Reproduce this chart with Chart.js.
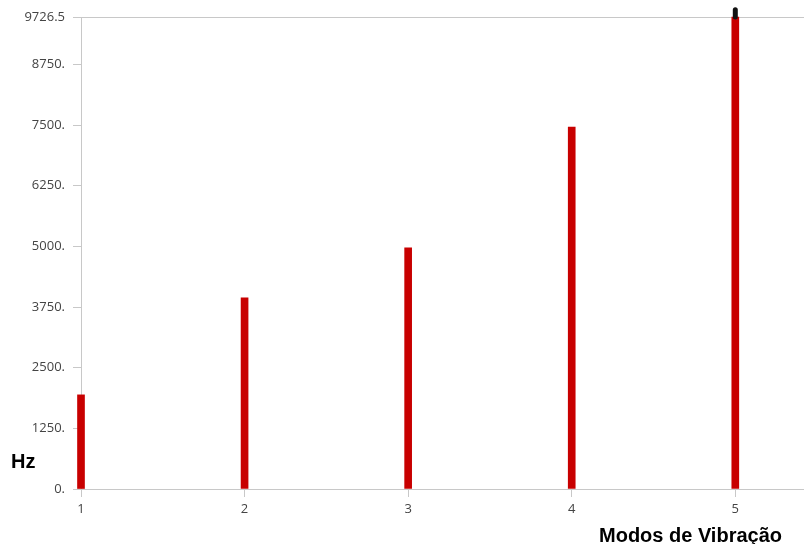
<!DOCTYPE html>
<html>
<head>
<meta charset="utf-8">
<script src="https://cdn.jsdelivr.net/npm/chart.js@4/dist/chart.umd.min.js"></script>
<style>
  html, body { margin: 0; padding: 0; background: #fff; }
  #wrap { position: relative; width: 804px; height: 544px; }
  .rotulo { position: absolute; font-family: "Liberation Sans", Arial, sans-serif; font-weight: bold; font-size: 20px; color: #000; line-height: 1; }
</style>
</head>
<body>
<div id="wrap">
  <canvas id="grafico" width="804" height="544"></canvas>
  <div class="rotulo" style="left:11px; top:451px;">Hz</div>
  <div class="rotulo" style="left:599px; top:525px;">Modos de Vibração</div>
</div>
<script>
// Modos de vibração e frequências (Hz)
const modos = [1, 2, 3, 4, 5];
const frequencias = [1940, 3940, 4970, 7460, 9726.5];
// Valores das marcas do eixo Y
const ticksY = [0, 1250, 2500, 3750, 5000, 6250, 7500, 8750, 9726.5];
const rotulosY = ['0.', '1250.', '2500.', '3750.', '5000.', '6250.', '7500.', '8750.', '9726.5'];

const corGrade = '#c8c8c8';
const corTexto = '#444';
const maxY = ticksY[ticksY.length - 1];

const ctx = document.getElementById('grafico').getContext('2d');

new Chart(ctx, {
    type: 'bar',
    data: {
        datasets: [
            {
                // marcador preto no topo do último modo
                type: 'line',
                data: [{x: modos[4], y: frequencias[4]}, {x: modos[4], y: frequencias[4] + 150}],
                borderColor: '#111',
                borderWidth: 5,
                borderCapStyle: 'round',
                pointRadius: 0,
                clip: false
            },
            {
                data: modos.map((m, i) => ({x: m, y: frequencias[i]})),
                backgroundColor: '#c80000',
                borderWidth: 0,
                barThickness: 7,
                clip: false
            }
        ]
    },
    options: {
        responsive: false,
        animation: false,
        layout: {padding: {top: 17, right: 0, left: 0, bottom: 0}},
        plugins: {legend: {display: false}, tooltip: {enabled: false}},
        scales: {
            x: {
                type: 'linear',
                min: 1,
                max: 5.42,
                offset: false,
                afterBuildTicks: (scale) => { scale.ticks = modos.map(v => ({value: v})); },
                afterFit: (scale) => { scale.height = 55; },
                grid: {drawOnChartArea: false, offset: false, color: corGrade, tickLength: 8},
                border: {color: corGrade, width: 1},
                ticks: {
                    color: corTexto,
                    font: {family: 'Open Sans', size: 13},
                    padding: 4,
                    maxRotation: 0,
                    callback: (v) => String(v)
                }
            },
            y: {
                min: 0,
                max: maxY,
                afterBuildTicks: (scale) => { scale.ticks = ticksY.map(v => ({value: v})); },
                afterFit: (scale) => { scale.width = 81; },
                grid: {
                    color: (c) => (c.tick && c.tick.value === maxY) ? corGrade : 'rgba(0,0,0,0)',
                    tickColor: corGrade,
                    tickLength: 8
                },
                border: {color: corGrade, width: 1},
                ticks: {
                    color: corTexto,
                    font: {family: 'Open Sans', size: 13},
                    padding: 8,
                    callback: (v, i) => rotulosY[i]
                }
            }
        }
    }
});
</script>
</body>
</html>
